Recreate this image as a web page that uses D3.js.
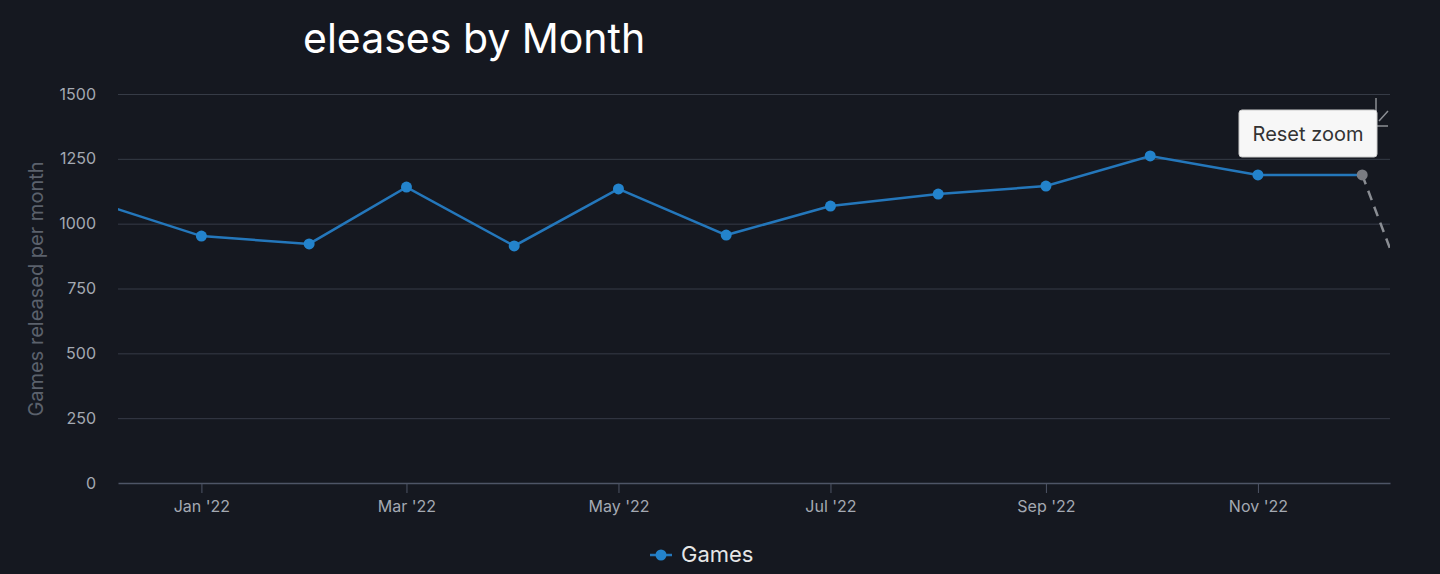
<!DOCTYPE html>
<html><head><meta charset="utf-8">
<script src="https://cdn.jsdelivr.net/npm/d3@7"></script>
<style>
html,body{margin:0;padding:0;background:#151820;}
svg{display:block;font-family:Inter, "Noto Sans", sans-serif;}
</style></head><body>
<svg id="c" width="1440" height="574"></svg>
<script>
const months = ["2021-12-01","2022-01-01","2022-02-01","2022-03-01","2022-04-01","2022-05-01","2022-06-01","2022-07-01","2022-08-01","2022-09-01","2022-10-01","2022-11-01","2022-12-01"];
const games = [1086,952,922,1141,914,1134,956,1068,1114,1145,1261,1188,1188];
const partialMonths = ["2022-12-01","2023-01-01"];
const partialValues = [1188,88];
const yTicks = [0,250,500,750,1000,1250,1500];
const xTickDates = ["2022-01-01","2022-03-01","2022-05-01","2022-07-01","2022-09-01","2022-11-01"];
const title = "eleases by Month";
const yTitle = "Games released per month";
const seriesName = "Games";

const parse = d3.utcParse("%Y-%m-%d");
const svg = d3.select("#c");
const L=118, R=1390, T=94, B=483;
const x = d3.scaleUtc().domain([parse("2021-12-08"), parse("2022-12-09")]).range([L,R]);
const y = d3.scaleLinear().domain([0,1500]).range([B,T]);
const fmt = d3.utcFormat("%b '%y");

svg.append("defs").append("clipPath").attr("id","clip")
  .append("rect").attr("x",L).attr("y",T-20).attr("width",R-L).attr("height",B-T+40);

// title
svg.append("text").attr("x",303).attr("y",53).attr("fill","#ffffff")
  .attr("font-size",41).text(title);

// grid
const gy = svg.append("g").attr("transform",`translate(${L},0)`)
  .call(d3.axisLeft(y).tickValues(yTicks).tickFormat(d3.format("d")).tickSize(-(R-L)).tickPadding(22));
gy.select(".domain").remove();
gy.selectAll(".tick line").attr("stroke","#363b46").attr("stroke-width",1)
  .filter(d=>d===0).remove();
gy.selectAll(".tick text").attr("fill","#a4a9b2").attr("font-size",16)
  .attr("font-family","Inter, 'Noto Sans', sans-serif");

// x axis
const gx = svg.append("g").attr("transform",`translate(0,${B})`)
  .call(d3.axisBottom(x).tickValues(xTickDates.map(parse)).tickFormat(fmt).tickSize(10).tickSizeOuter(0).tickPadding(8));
gx.select(".domain").attr("stroke","#4e5566").attr("stroke-width",1.5);
gx.selectAll(".tick line").attr("stroke","#4e5566");
gx.selectAll(".tick text").attr("fill","#a4a9b2").attr("font-size",16)
  .attr("font-family","Inter, 'Noto Sans', sans-serif");

// y title
svg.append("text").attr("transform",`translate(43,289) rotate(-90)`)
  .attr("text-anchor","middle").attr("fill","#5b616c").attr("font-size",20)
  .text(yTitle);

const plot = svg.append("g").attr("clip-path","url(#clip)");
const line = d3.line().x(d=>x(parse(d[0]))).y(d=>y(d[1]));

// partial dashed segment
plot.append("path").datum(partialMonths.map((m,i)=>[m,partialValues[i]]))
  .attr("d",line).attr("fill","none").attr("stroke","#8a8d93").attr("stroke-width",2.5)
  .attr("stroke-dasharray","10,7");

const pts = months.map((m,i)=>[m,games[i]]);
plot.append("path").datum(pts.slice(0,12)).attr("d",line)
  .attr("fill","none").attr("stroke","#2477bb").attr("stroke-width",2.5);
plot.append("path").datum(pts.slice(11,13)).attr("d",line)
  .attr("fill","none").attr("stroke","#2477bb").attr("stroke-width",2.5);

plot.selectAll("circle.p").data(pts.slice(0,12)).join("circle").attr("class","p")
  .attr("cx",d=>x(parse(d[0]))).attr("cy",d=>y(d[1])).attr("r",5.5).attr("fill","#2383cc");
plot.append("circle").attr("cx",x(parse(months[12]))).attr("cy",y(games[12]))
  .attr("r",5.5).attr("fill","#7a7c82");

// small icon lines behind reset button
svg.append("path").attr("d","M1376,98 V126 H1388 M1379,121 L1388,111")
  .attr("stroke","#8a8d93").attr("stroke-width",1.5).attr("fill","none");

// reset zoom button
const btn = svg.append("g");
btn.append("rect").attr("x",1239).attr("y",110).attr("width",138).attr("height",47)
  .attr("rx",3).attr("fill","#f7f7f7").attr("stroke","#cccccc");
btn.append("text").attr("x",1308).attr("y",141).attr("text-anchor","middle")
  .attr("fill","#333333").attr("font-size",20).text("Reset zoom");

// legend
const lg = svg.append("g");
lg.append("line").attr("x1",650).attr("x2",672).attr("y1",555).attr("y2",555)
  .attr("stroke","#2477bb").attr("stroke-width",2.5);
lg.append("circle").attr("cx",661).attr("cy",555).attr("r",5.5).attr("fill","#2383cc");
lg.append("text").attr("x",681).attr("y",562).attr("fill","#e6e6e6")
  .attr("font-size",22).text(seriesName);
</script>
</body></html>
